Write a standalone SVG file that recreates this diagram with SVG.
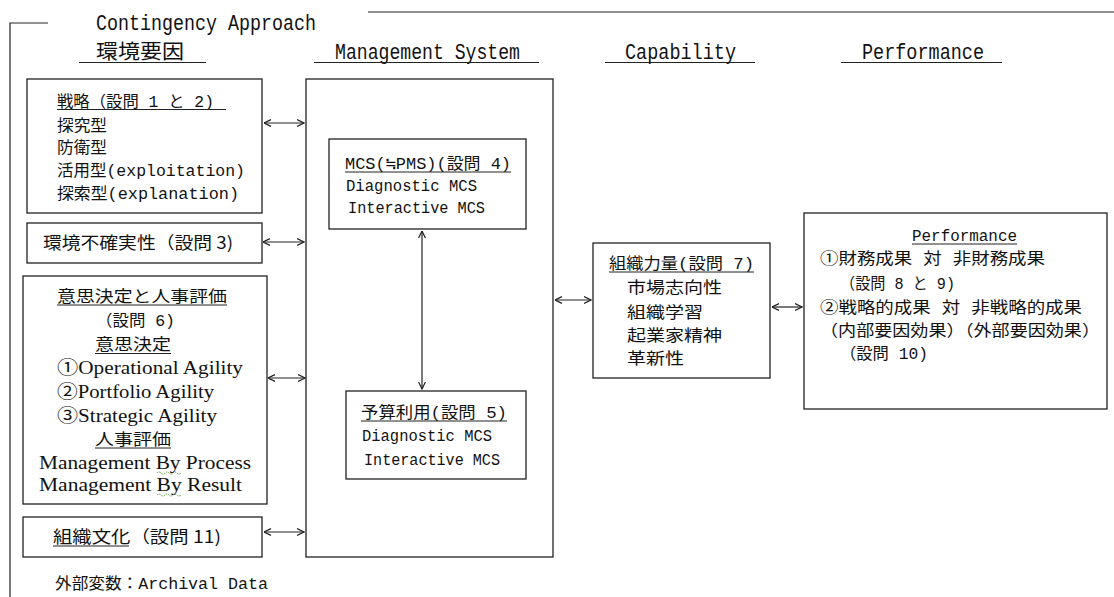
<svg xmlns="http://www.w3.org/2000/svg" width="1114" height="597" viewBox="0 0 1114 597">
<style>
.box{fill:#fff;stroke:#222;stroke-width:1.3}
.ln{stroke:#222;stroke-width:1.2;fill:none}
.ul{stroke:#222;stroke-width:1}
.ar{stroke:#222;stroke-width:1.2;fill:none;marker-start:url(#ah);marker-end:url(#ah)}
text{fill:#111}
.m{font-family:"Liberation Mono","Noto Sans CJK JP",monospace;font-size:16px}
.h{font-family:"Liberation Mono","Noto Sans CJK JP",monospace;font-size:22px}
.hj{font-family:"Noto Sans CJK JP",sans-serif;font-size:20px}
.g{font-family:"Noto Sans CJK JP",sans-serif;font-size:17px}
.s{font-family:"Liberation Serif","Noto Sans CJK JP",serif;font-size:18px}
.sq{stroke:#5a9a3a;stroke-width:1;fill:none;stroke-dasharray:1.5 1}
</style>
<defs>
<marker id="ah" viewBox="0 0 8 8" refX="7.5" refY="4" markerWidth="8" markerHeight="8" markerUnits="userSpaceOnUse" orient="auto-start-reverse">
<path d="M0.5,0.6 L7.5,4 L0.5,7.4" fill="none" stroke="#222" stroke-width="1.2"/>
</marker>
</defs>

<g id="frame">
<path class="ln" d="M10,597 V23 H48"/>
<line class="ln" x1="368" y1="12" x2="1114" y2="12"/>
<text class="h" x="96" y="30" textLength="220" lengthAdjust="spacingAndGlyphs">Contingency Approach</text>
</g>

<g id="headers">
<text class="hj" x="96" y="59" textLength="88" lengthAdjust="spacingAndGlyphs">環境要因</text>
<line class="ul" x1="79" y1="62.5" x2="206" y2="62.5"/>
<text class="h" x="335" y="59" textLength="185" lengthAdjust="spacingAndGlyphs">Management System</text>
<line class="ul" x1="314" y1="62.5" x2="539" y2="62.5"/>
<text class="h" x="625" y="59" textLength="111" lengthAdjust="spacingAndGlyphs">Capability</text>
<line class="ul" x1="605" y1="62.5" x2="755" y2="62.5"/>
<text class="h" x="862" y="59" textLength="122" lengthAdjust="spacingAndGlyphs">Performance</text>
<line class="ul" x1="841" y1="62.5" x2="1002" y2="62.5"/>
</g>

<g id="strategy">
<rect class="box" x="27" y="79" width="235" height="134"/>
<text class="m" x="57" y="107" textLength="157" lengthAdjust="spacingAndGlyphs">戦略（設問 1 と 2)</text>
<line class="ul" x1="57" y1="109.5" x2="226" y2="109.5"/>
<text class="m" x="57" y="131" textLength="50" lengthAdjust="spacingAndGlyphs">探究型</text>
<text class="m" x="57" y="153" textLength="50" lengthAdjust="spacingAndGlyphs">防衛型</text>
<text class="m" x="57" y="176" textLength="188" lengthAdjust="spacingAndGlyphs">活用型(exploitation)</text>
<text class="m" x="57" y="199" textLength="182" lengthAdjust="spacingAndGlyphs">探索型(explanation)</text>
</g>

<g id="uncertainty">
<rect class="box" x="27" y="223" width="235" height="40"/>
<text class="g" x="43" y="249" textLength="190" lengthAdjust="spacingAndGlyphs">環境不確実性（設問 3)</text>
</g>

<g id="decision">
<rect class="box" x="23" y="276" width="244" height="228"/>
<text class="m" x="57" y="302" textLength="170" lengthAdjust="spacingAndGlyphs">意思決定と人事評価</text>
<line class="ul" x1="57" y1="305" x2="227" y2="305"/>
<text class="m" x="96" y="326" textLength="79" lengthAdjust="spacingAndGlyphs">（設問 6)</text>
<text class="m" x="95" y="350" textLength="76" lengthAdjust="spacingAndGlyphs">意思決定</text>
<line class="ul" x1="95" y1="353.5" x2="171" y2="353.5"/>
<text class="s" x="57" y="374" textLength="186" lengthAdjust="spacingAndGlyphs">①Operational Agility</text>
<text class="s" x="57" y="398" textLength="157" lengthAdjust="spacingAndGlyphs">②Portfolio Agility</text>
<text class="s" x="57" y="422" textLength="160" lengthAdjust="spacingAndGlyphs">③Strategic Agility</text>
<text class="m" x="95" y="445" textLength="76" lengthAdjust="spacingAndGlyphs">人事評価</text>
<line class="ul" x1="95" y1="448" x2="171" y2="448"/>
<text class="s" x="39" y="469" textLength="212" lengthAdjust="spacingAndGlyphs">Management By Process</text>
<text class="s" x="39" y="491" textLength="203" lengthAdjust="spacingAndGlyphs">Management By Result</text>
<path class="sq" d="M157,473 q2,-2 4,0 t4,0 t4,0 t4,0 t4,0 t4,0"/>
<path class="sq" d="M157,495 q2,-2 4,0 t4,0 t4,0 t4,0 t4,0 t4,0"/>
</g>

<g id="culture">
<rect class="box" x="23" y="517" width="239" height="40"/>
<text class="g" x="53" y="543" textLength="168" lengthAdjust="spacingAndGlyphs">組織文化（設問 11)</text>
<line class="ul" x1="53" y1="546" x2="129" y2="546"/>
</g>

<g id="external">
<text class="m" x="55" y="589" textLength="213" lengthAdjust="spacingAndGlyphs">外部変数：Archival Data</text>
</g>

<g id="management-system">
<rect class="box" x="306" y="79" width="247" height="478"/>
</g>

<g id="mcs">
<rect class="box" x="329" y="139" width="197" height="90"/>
<text class="m" x="345" y="169" textLength="166" lengthAdjust="spacingAndGlyphs">MCS(≒PMS)(設問 4)</text>
<line class="ul" x1="345" y1="172" x2="511" y2="172"/>
<text class="m" x="346" y="191" textLength="131" lengthAdjust="spacingAndGlyphs">Diagnostic MCS</text>
<text class="m" x="348" y="213" textLength="137" lengthAdjust="spacingAndGlyphs">Interactive MCS</text>
</g>

<g id="budget">
<rect class="box" x="346" y="391" width="180" height="88"/>
<text class="m" x="361" y="418" textLength="146" lengthAdjust="spacingAndGlyphs">予算利用(設問 5)</text>
<line class="ul" x1="361" y1="421" x2="507" y2="421"/>
<text class="m" x="362" y="441" textLength="130" lengthAdjust="spacingAndGlyphs">Diagnostic MCS</text>
<text class="m" x="364" y="465" textLength="136" lengthAdjust="spacingAndGlyphs">Interactive MCS</text>
</g>

<g id="capability">
<rect class="box" x="593" y="243" width="177" height="135"/>
<text class="m" x="609" y="269" textLength="145" lengthAdjust="spacingAndGlyphs">組織力量(設問 7)</text>
<line class="ul" x1="609" y1="272" x2="754" y2="272"/>
<text class="m" x="627" y="293" textLength="95" lengthAdjust="spacingAndGlyphs">市場志向性</text>
<text class="m" x="627" y="318" textLength="76" lengthAdjust="spacingAndGlyphs">組織学習</text>
<text class="m" x="627" y="341" textLength="95" lengthAdjust="spacingAndGlyphs">起業家精神</text>
<text class="m" x="627" y="364" textLength="57" lengthAdjust="spacingAndGlyphs">革新性</text>
</g>

<g id="performance">
<rect class="box" x="804" y="213" width="303" height="196"/>
<text class="m" x="912" y="241" textLength="105" lengthAdjust="spacingAndGlyphs">Performance</text>
<line class="ul" x1="912" y1="244" x2="1017" y2="244"/>
<text class="m" x="820" y="264" textLength="225" lengthAdjust="spacingAndGlyphs">①財務成果 対 非財務成果</text>
<text class="m" x="840" y="289" textLength="115" lengthAdjust="spacingAndGlyphs">（設問 8 と 9)</text>
<text class="m" x="820" y="313" textLength="262" lengthAdjust="spacingAndGlyphs">②戦略的成果 対 非戦略的成果</text>
<text class="m" x="820" y="336" textLength="280" lengthAdjust="spacingAndGlyphs">（内部要因効果）（外部要因効果）</text>
<text class="m" x="840" y="359" textLength="88" lengthAdjust="spacingAndGlyphs">（設問 10)</text>
</g>

<g id="connectors">
<line class="ar" x1="264" y1="123" x2="304" y2="123"/>
<line class="ar" x1="263" y1="242" x2="304" y2="242"/>
<line class="ar" x1="268" y1="378" x2="305" y2="378"/>
<line class="ar" x1="264" y1="532" x2="304" y2="532"/>
<line class="ar" x1="422" y1="231" x2="422" y2="389"/>
<line class="ar" x1="555" y1="300" x2="591" y2="300"/>
<line class="ar" x1="772" y1="307" x2="802" y2="307"/>
</g>
</svg>
